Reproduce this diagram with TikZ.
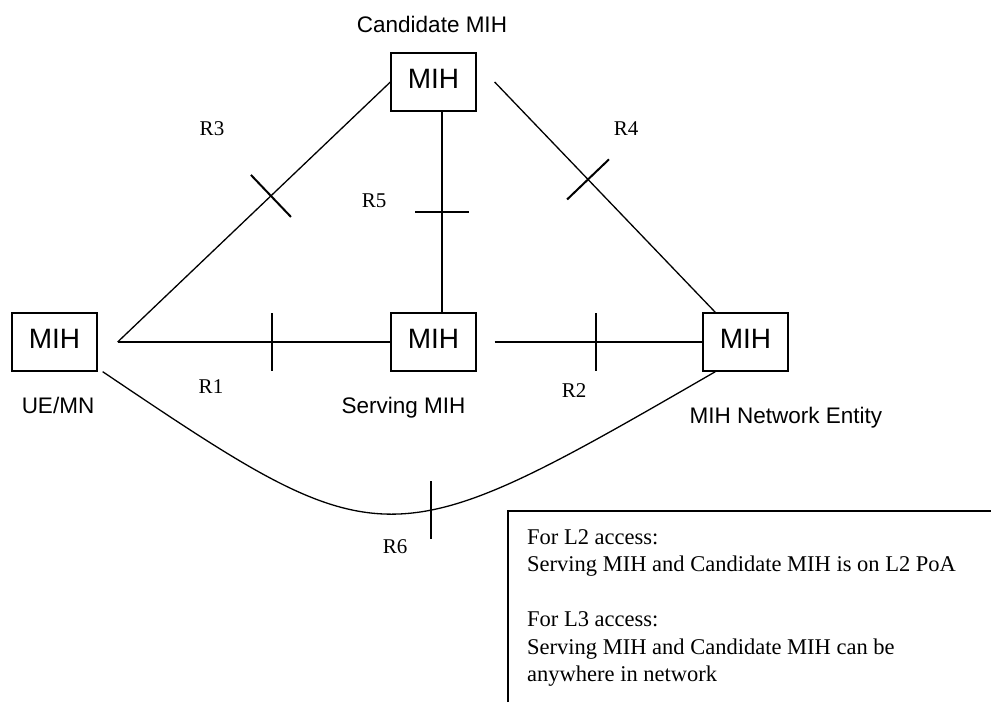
\documentclass[tikz,border=0pt]{standalone}
\usepackage{fontspec}
\setmainfont{Liberation Serif}
\newfontfamily\arialfont{Liberation Sans}
\usetikzlibrary{calc}

\begin{document}
\begin{tikzpicture}[x=1pt,y=-1pt,
  mihbox/.style={draw, line width=1.3pt, minimum width=85pt, minimum height=58pt,
    inner sep=0pt, font=\arialfont\fontsize{28}{28}\selectfont,
    text height=20pt, text depth=7pt},
  link/.style={line width=1.3pt},
  crossmark/.style={line width=2pt},
  sanslabel/.style={font=\arialfont\fontsize{22.5}{27}\selectfont, anchor=base, inner sep=0pt},
  reflabel/.style={font=\fontsize{21}{25}\selectfont, anchor=base, inner sep=0pt},
  notetext/.style={font=\fontsize{22.5}{27.5}\selectfont, anchor=base west, inner sep=0pt},
]
\useasboundingbox (0,0) rectangle (991,702);

% MIH entities
\node[mihbox] (cand) at (433.5,82)  {MIH};
\node[mihbox] (ue)   at (54.5,342)  {MIH};
\node[mihbox] (serv) at (433.5,342) {MIH};
\node[mihbox] (ne)   at (745.5,342) {MIH};

% entity names
\node[sanslabel] (candname) at (432,32)  {Candidate MIH};
\node[sanslabel] (uename)   at (58,413)  {UE/MN};
\node[sanslabel] (servname) at (403.5,413) {Serving MIH};
\node[sanslabel] (nename)   at (786,423) {MIH Network Entity};

% connector end points that sit off the boxes
\coordinate (uej)  at ($(ue.east)+(20,0)$);
\coordinate (servj) at ($(serv.east)+(18,0)$);
\coordinate (candj) at ($(cand.east)+(18,0)$);
\coordinate (r5a) at ($(cand.south)+(8.5,0)$);
\coordinate (r5b) at ($(serv.north)+(8.5,0)$);
\coordinate (r4b) at ($(ne.north west)+(13,0)$);
\coordinate (r6a) at ($(ue.south east)+(5,0)$);
\coordinate (r6b) at ($(ne.south west)+(13,0)$);

% reference points
\draw[link] (uej) -- (serv.west) coordinate[pos=0.566] (r1m);
\draw[link] (servj) -- (ne.west) coordinate[pos=0.488] (r2m);
\draw[link] (uej) -- (cand.west) coordinate[pos=0.562] (r3m);
\draw[link] (candj) -- (r4b) coordinate[pos=0.423] (r4m);
\draw[link] (r5a) -- (r5b) coordinate[pos=0.5] (r5m);
\draw[link] (r6a) .. controls +(282,190) and +(-329,190) .. (r6b) coordinate[pos=0.584] (r6m);

% cross marks on the reference points
\draw[crossmark] ($(r1m)+(0,-29)$) -- ($(r1m)+(0,29)$);
\draw[crossmark] ($(r2m)+(0,-29)$) -- ($(r2m)+(0,29)$);
\draw[crossmark] ($(r3m)!29pt!90:(cand.west)$) -- ($(r3m)!29pt!-90:(cand.west)$);
\draw[crossmark] ($(r4m)!29pt!90:(r4b)$) -- ($(r4m)!29pt!-90:(r4b)$);
\draw[crossmark] ($(r5m)+(-27,0)$) -- ($(r5m)+(27,0)$);
\draw[crossmark] ($(r6m)+(0,-29)$) -- ($(r6m)+(0,29)$);

% reference point names
\node[reflabel] (r1) at (211,393) {R1};
\node[reflabel] (r2) at (574,397) {R2};
\node[reflabel] (r3) at (212,135) {R3};
\node[reflabel] (r4) at (626,135) {R4};
\node[reflabel] (r5) at (374,207) {R5};
\node[reflabel] (r6) at (395,553) {R6};

% access note
\draw[line width=1.3pt] (508,702) |- (991,511);
\node[notetext] (note1) at (527,544) {For L2 access:};
\node[notetext] (note2) at (527,571.5) {Serving MIH and Candidate MIH is on L2 PoA};
\node[notetext] (note3) at (527,626.5) {For L3 access:};
\node[notetext] (note4) at (527,654) {Serving MIH and Candidate MIH can be};
\node[notetext] (note5) at (527,681.5) {anywhere in network};
\end{tikzpicture}
\end{document}
